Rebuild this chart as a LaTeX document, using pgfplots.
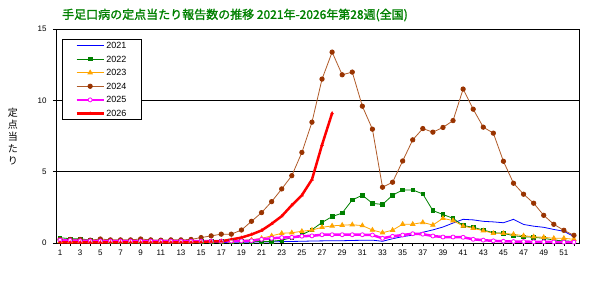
\documentclass[border=0pt]{standalone}
\usepackage{fontspec}
\setmainfont{Liberation Sans}
\newfontfamily\jp{Noto Sans CJK JP}
\newfontfamily\jpb[FakeBold=1.5]{Noto Sans CJK JP}
\usepackage{pgfplots}
\pgfplotsset{compat=1.18}
\definecolor{c21}{RGB}{0,0,255}
\definecolor{c22}{RGB}{0,128,0}
\definecolor{c23}{RGB}{255,165,0}
\definecolor{c24}{RGB}{153,51,0}
\definecolor{c24l}{RGB}{176,90,40}
\definecolor{c25}{RGB}{255,0,255}
\definecolor{c26}{RGB}{255,0,0}
\definecolor{ttl}{RGB}{0,128,0}
\begin{document}
\begin{tikzpicture}[x=1pt,y=1pt]
\begin{axis}[
  scale only axis, width=523pt, height=214pt,
  xmin=0.6, xmax=52.5, ymin=0, ymax=15,
  xtick={1,3,...,51}, minor xtick={2,4,...,52},
  ytick={0,5,10,15},
  ymajorgrids, grid style={black, line width=0.8pt},
  axis line style={line width=0.8pt},
  tick align=outside, major tick length=3pt, minor tick length=3pt,
  tick style={black, line width=0.6pt},
  xtick pos=lower, ytick pos=left,
  ticklabel style={font=\fontsize{8}{9}\selectfont},
  yticklabel style={xshift=-3pt},
  /pgf/number format/assume math mode=true,
  legend style={at={(0.0115,0.953)}, anchor=north west, draw=black, line width=0.8pt,
    font=\fontsize{9}{10}\selectfont, inner xsep=13pt, inner ysep=2pt,
    nodes={inner xsep=1.5pt, inner ysep=0pt, text height=7pt, text depth=1pt}, row sep=5.6pt},
  legend cell align=left,
  legend image code/.code={\draw[mark repeat=2,mark phase=2] plot coordinates {(0pt,0pt)(13.5pt,0pt)(27pt,0pt)};},
]
\addplot[c21, line width=0.8pt, mark=none] coordinates {
(1,0.03)(2,0.03)(3,0.03)(4,0.03)(5,0.03)(6,0.03)(7,0.03)(8,0.03)(9,0.03)(10,0.03)
(11,0.03)(12,0.03)(13,0.03)(14,0.03)(15,0.03)(16,0.04)(17,0.04)(18,0.05)(19,0.05)(20,0.06)
(21,0.07)(22,0.08)(23,0.1)(24,0.11)(25,0.12)(26,0.14)(27,0.15)(28,0.16)(29,0.16)(30,0.18)
(31,0.19)(32,0.2)(33,0.12)(34,0.3)(35,0.45)(36,0.55)(37,0.75)(38,0.92)(39,1.12)(40,1.4)
(41,1.66)(42,1.62)(43,1.52)(44,1.48)(45,1.42)(46,1.66)(47,1.3)(48,1.18)(49,1.1)(50,0.95)
(51,0.82)(52,0.45)};
\addlegendentry{2021}
\addplot[c22, line width=0.8pt, mark=square*, mark size=1.8pt, mark options={solid}] coordinates {
(1,0.37)(2,0.3)(3,0.3)(4,0.2)(5,0.15)(6,0.1)(7,0.1)(8,0.1)(9,0.1)(10,0.1)
(11,0.1)(12,0.1)(13,0.1)(14,0.1)(15,0.1)(16,0.1)(17,0.1)(18,0.1)(19,0.1)(20,0.1)
(21,0.1)(22,0.12)(23,0.2)(24,0.37)(25,0.58)(26,0.93)(27,1.44)(28,1.85)(29,2.1)(30,3.02)
(31,3.35)(32,2.78)(33,2.7)(34,3.35)(35,3.72)(36,3.72)(37,3.44)(38,2.27)(39,2.0)(40,1.73)
(41,1.22)(42,1.1)(43,0.91)(44,0.72)(45,0.68)(46,0.51)(47,0.44)(48,0.4)(49,0.33)(50,0.21)
(51,0.14)(52,0.12)};
\addlegendentry{2022}
\addplot[c23, line width=0.8pt, mark=triangle*, mark size=2.5pt] coordinates {
(1,0.1)(2,0.1)(3,0.1)(4,0.1)(5,0.1)(6,0.1)(7,0.1)(8,0.1)(9,0.1)(10,0.1)
(11,0.1)(12,0.1)(13,0.1)(14,0.1)(15,0.1)(16,0.1)(17,0.1)(18,0.12)(19,0.18)(20,0.22)
(21,0.33)(22,0.5)(23,0.68)(24,0.72)(25,0.82)(26,0.91)(27,1.1)(28,1.2)(29,1.25)(30,1.28)
(31,1.22)(32,0.91)(33,0.72)(34,0.9)(35,1.32)(36,1.32)(37,1.44)(38,1.26)(39,1.73)(40,1.57)
(41,1.19)(42,1.03)(43,0.86)(44,0.68)(45,0.68)(46,0.61)(47,0.51)(48,0.44)(49,0.4)(50,0.33)
(51,0.33)(52,0.26)};
\addlegendentry{2023}
\addplot[c24l, line width=0.8pt, mark=*, mark size=2.2pt, mark options={fill=c24, draw=c24}] coordinates {
(1,0.25)(2,0.25)(3,0.25)(4,0.2)(5,0.28)(6,0.22)(7,0.22)(8,0.22)(9,0.28)(10,0.22)
(11,0.2)(12,0.22)(13,0.22)(14,0.25)(15,0.38)(16,0.5)(17,0.62)(18,0.62)(19,0.91)(20,1.52)
(21,2.13)(22,2.9)(23,3.79)(24,4.72)(25,6.35)(26,8.47)(27,11.49)(28,13.38)(29,11.79)(30,11.98)
(31,9.59)(32,7.98)(33,3.91)(34,4.26)(35,5.75)(36,7.23)(37,8.02)(38,7.77)(39,8.1)(40,8.58)
(41,10.79)(42,9.38)(43,8.12)(44,7.7)(45,5.73)(46,4.19)(47,3.42)(48,2.79)(49,1.94)(50,1.31)
(51,0.89)(52,0.54)};
\addlegendentry{2024}
\addplot[c25, line width=2.5pt, mark=*, mark size=2pt, mark options={fill=white, draw=c25, line width=0.8pt}] coordinates {
(1,0.2)(2,0.18)(3,0.15)(4,0.14)(5,0.14)(6,0.13)(7,0.13)(8,0.13)(9,0.13)(10,0.13)
(11,0.13)(12,0.13)(13,0.13)(14,0.13)(15,0.13)(16,0.13)(17,0.13)(18,0.14)(19,0.15)(20,0.16)
(21,0.26)(22,0.33)(23,0.38)(24,0.4)(25,0.48)(26,0.5)(27,0.58)(28,0.58)(29,0.58)(30,0.58)
(31,0.58)(32,0.56)(33,0.33)(34,0.47)(35,0.56)(36,0.65)(37,0.62)(38,0.49)(39,0.42)(40,0.42)
(41,0.4)(42,0.26)(43,0.2)(44,0.15)(45,0.12)(46,0.1)(47,0.1)(48,0.08)(49,0.08)(50,0.07)
(51,0.06)(52,0.06)};
\addlegendentry{2025}
\addplot[c26, line width=2.5pt, mark=triangle*, mark size=1.6pt, mark options={line width=0.5pt}] coordinates {
(1,0.05)(2,0.05)(3,0.05)(4,0.05)(5,0.05)(6,0.05)(7,0.05)(8,0.05)(9,0.05)(10,0.05)
(11,0.05)(12,0.05)(13,0.05)(14,0.05)(15,0.07)(16,0.1)(17,0.12)(18,0.25)(19,0.38)(20,0.6)
(21,0.88)(22,1.35)(23,1.88)(24,2.65)(25,3.35)(26,4.45)(27,6.88)(28,9.1)};
\addlegendentry{2026}
\end{axis}
\node[text=ttl, font=\jpb\fontsize{12}{14}\selectfont] at (179,228) {手足口病の定点当たり報告数の推移 2021年-2026年第28週(全国)};
\node[align=center, font=\jp\fontsize{10}{12}\selectfont] at (-43,106) {定\\点\\当\\た\\り};
\path[use as bounding box] (-56,-39) rectangle (546,243);
\end{tikzpicture}
\end{document}
